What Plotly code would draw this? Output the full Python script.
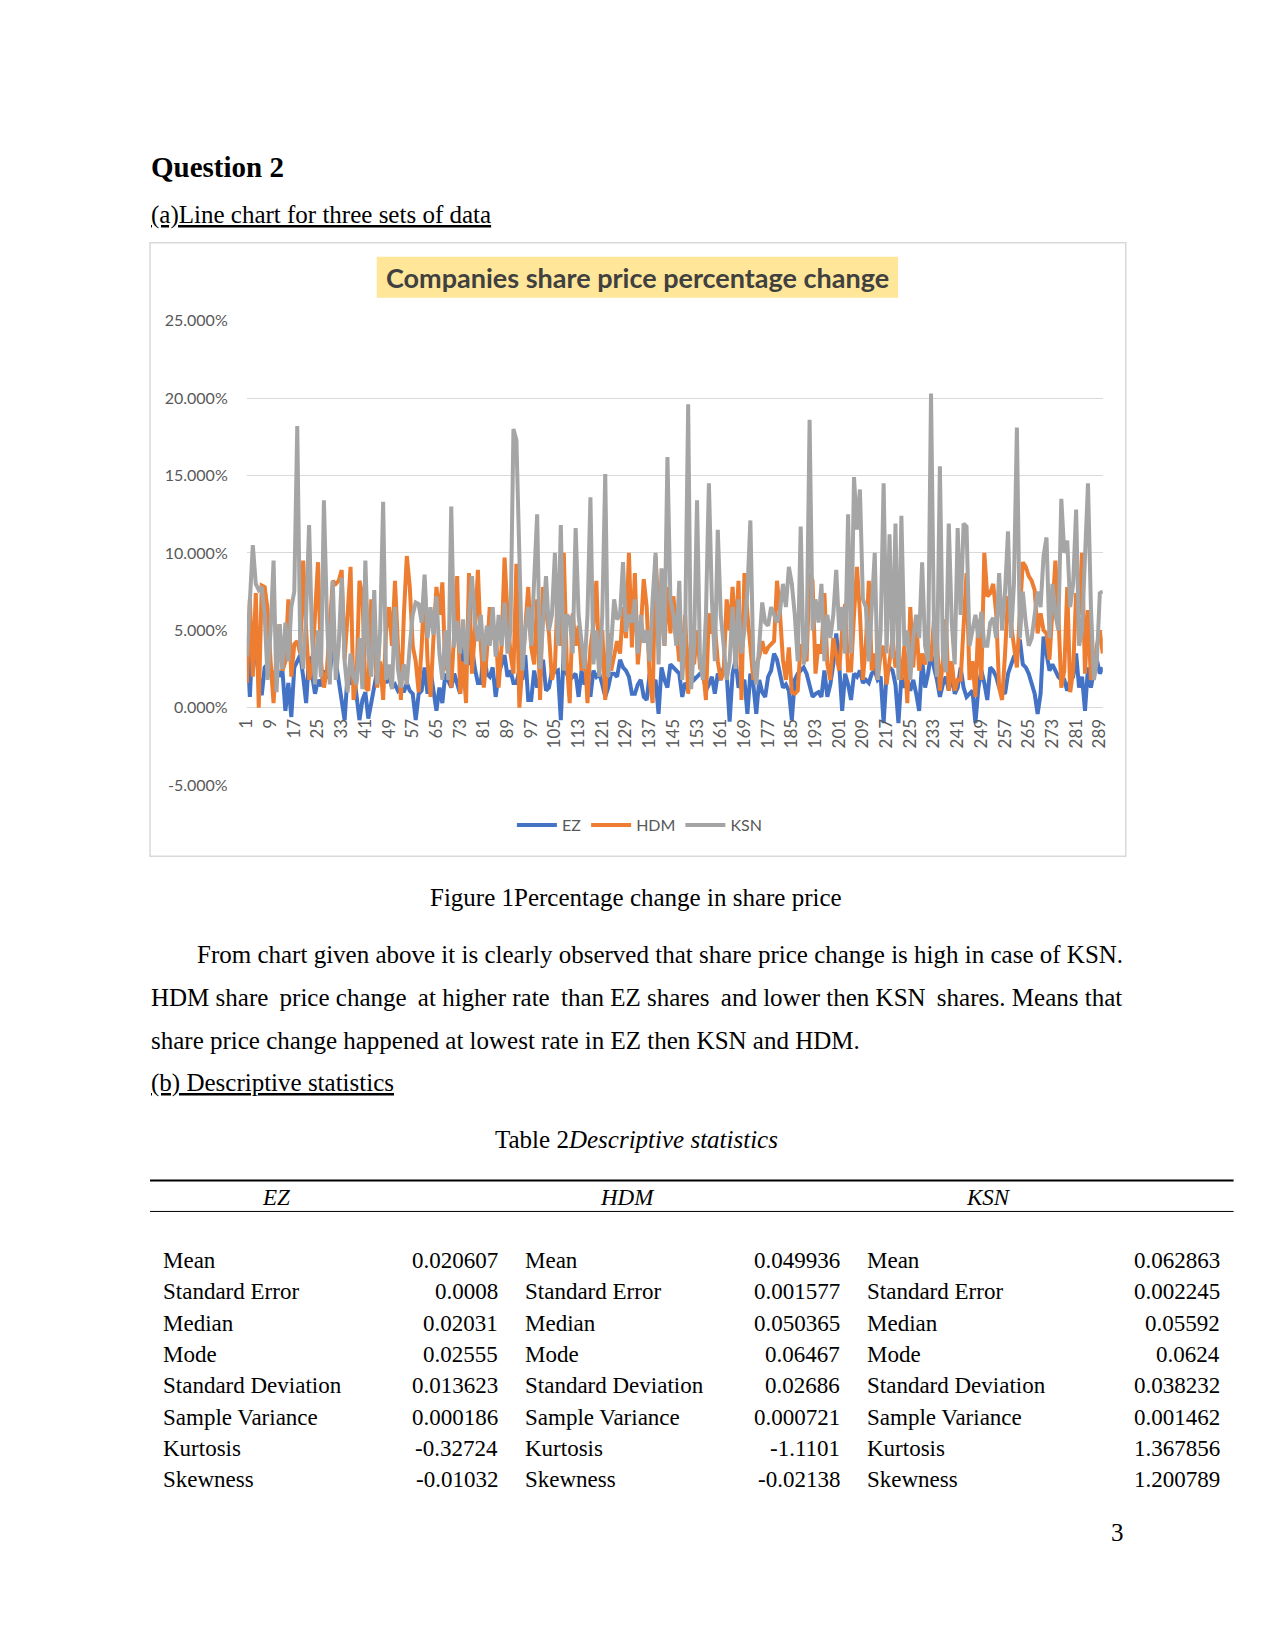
import plotly.graph_objects as go

# Page is 1275x1651; the browser body keeps its default 8px margin,
# so the figure itself is 16px smaller and every page coordinate is shifted.
PAGE_MARGIN = 8
W, H = 1275 - 2 * PAGE_MARGIN, 1651 - 2 * PAGE_MARGIN
# small empirical correction of the page placement (measured on the previous render)
SX_A, SX_B = 10.9, 0.987
SY_A, SY_B = 10.6, 0.9876


def px(x):
    xi = (x - SX_A) / SX_B
    return (xi - PAGE_MARGIN) / W


def py(y):
    yi = (y - SY_A) / SY_B
    return 1 - (yi - PAGE_MARGIN) / H


# ---------------- data (percent change) ----------------
series_names = ["EZ", "HDM", "KSN"]
series_colors = ["#4472C4", "#ED7D31", "#A5A5A5"]

ez = [
    4.6, 0.7, 4.8, 3.5, 2.0, 0.8, 2.6, 2.8, 2.2, 1.8,
    2.6, 2.0, 2.4, -0.2, 1.6, -0.6, 2.6, 3.0, 3.4, 2.0,
    0.3, 3.3, 2.0, 0.9, 1.8, 1.4, 2.4, 2.0, 2.2, 4.0,
    3.0, 1.8, 0.5, -0.8, 2.2, 1.5, 2.4, 1.0, -0.8, 0.5,
    1.0, -0.7, 0.3, 1.5, 2.4, 2.8, 2.2, 1.6, 2.0, 1.3,
    1.5, 1.1, 1.3, 1.0, 1.6, 1.1, 0.9, -0.8, 0.9, 1.1,
    2.6, 0.9, 2.4, 1.2, -0.2, 1.3, 0.3, 2.2, 1.8, 1.3,
    2.2, 1.6, 0.9, 3.9, 3.0, 2.8, 3.9, 2.5, 1.6, 1.6,
    3.9, 2.2, 2.0, 2.6, 0.7, 2.2, 2.8, 3.4, 2.0, 2.4,
    1.6, 1.6, 2.4, 1.8, 3.4, 0.5, 0.5, 2.4, 1.3, 2.0,
    3.1, 1.1, 1.3, 2.4, 2.3, 2.4, -0.8, 3.7, 2.2, 1.8,
    2.0, 2.2, 0.7, 2.4, 1.5, 2.0, 0.7, 2.4, 2.0, 2.2,
    1.5, 0.7, 1.3, 2.2, 2.2, 2.0, 3.1, 2.6, 2.4, 2.0,
    0.9, 0.9, 1.5, 1.8, 0.7, 0.5, 2.2, 1.5, 1.8, -0.4,
    2.6, 1.8, 1.3, 2.8, 2.6, 2.4, 2.2, 0.7, 1.6, 1.3,
    2.2, 1.8, 2.0, 2.2, 2.2, 1.1, 1.5, 2.0, 0.9, 2.2,
    1.8, 2.6, 2.2, -0.9, 2.2, 3.1, 1.3, 1.6, 1.8, -0.4,
    2.2, 1.5, -0.4, 1.8, 1.0, 0.7, 2.0, 2.4, 3.5, 3.1,
    2.2, 1.3, 1.5, 1.1, -0.8, 1.8, 2.2, 2.4, 2.6, 2.2,
    1.3, 0.7, 0.9, 1.0, 0.7, 2.4, 0.7, 1.5, 2.8, 4.8,
    2.8, -0.2, 2.2, 1.5, 0.5, 2.2, 2.0, 2.4, 1.6, 1.8,
    1.6, 2.2, 2.4, 1.8, 2.0, -1.0, 2.2, 2.6, 2.4, 1.5,
    -1.0, 2.0, 1.3, 1.8, 1.1, 1.8, 0.9, -0.2, 3.1, 1.3,
    2.2, 3.5, 2.6, 1.8, 0.7, 1.5, 2.0, 1.1, 2.2, 0.9,
    1.3, 2.6, 1.3, 0.7, 0.9, 1.1, -1.0, 1.3, 2.4, 1.6,
    0.5, 2.6, 2.4, 2.0, 1.3, 1.1, 0.9, 2.2, 2.8, 3.3,
    3.5, 4.4, 2.8, 2.6, 2.2, 1.5, 0.9, -0.4, 0.9, 4.6,
    3.5, 2.4, 2.8, 2.4, 2.0, 1.8, 1.8, 1.1, 1.8, 2.0,
    3.5, 1.3, 2.0, -0.2, 2.6, 1.3, 2.4, 3.1, 2.2, 2.6,
]

hdm = [
    1.6, 7.0, 2.0, 7.4, 0.0, 7.9, 7.8, 6.3, 3.0, 0.3,
    3.5, 5.4, 2.4, 3.0, 7.0, 2.0, 4.1, 4.3, 3.5, 9.5,
    5.0, 1.8, 2.6, 6.0, 9.4, 3.0, 1.3, 2.4, 5.5, 8.2,
    8.0, 8.2, 8.9, 3.1, 6.0, 9.1, 0.5, 1.8, 8.2, 7.3,
    1.3, 1.1, 7.0, 4.0, 1.3, 3.0, 0.5, 5.0, 6.5, 4.0,
    8.2, 4.0, 0.5, 6.0, 9.8, 7.8, 4.0, 3.0, 1.0, 3.9,
    8.2, 3.0, 0.7, 4.5, 7.8, 6.0, 8.1, 2.4, 4.0, 1.3,
    5.0, 8.5, 0.9, 3.0, 0.3, 8.7, 2.2, 5.0, 8.9, 4.0,
    1.3, 3.5, 6.5, 4.4, 5.3, 1.3, 4.0, 9.7, 6.1, 3.5,
    2.2, 9.3, 0.0, 2.8, 5.0, 7.8, 3.9, 2.8, 7.0, 0.5,
    7.8, 6.5, 4.8, 1.8, 2.6, 7.8, 4.0, 10.0, 3.0, 0.3,
    6.1, 4.0, 5.3, 2.4, 4.0, 0.3, 3.9, 5.3, 8.2, 2.4,
    5.0, 0.5, 4.8, 2.4, 3.5, 4.3, 3.5, 6.5, 4.5, 10.0,
    3.9, 8.7, 2.8, 5.0, 8.3, 6.5, 1.8, 0.3, 9.8, 6.0,
    6.1, 4.0, 7.8, 4.8, 7.2, 4.8, 3.0, 3.5, 6.0, 0.9,
    4.5, 2.8, 5.0, 2.6, 2.6, 0.5, 6.1, 4.8, 5.3, 3.0,
    1.8, 2.4, 7.0, 5.0, 7.8, 4.5, 8.2, 0.5, 8.7, 6.1,
    4.0, 1.8, 2.8, 3.3, 4.3, 3.5, 3.9, 4.1, 4.3, 8.2,
    6.1, 3.1, 1.8, 3.9, 1.0, 0.9, 1.1, 4.1, 3.3, 3.0,
    8.7, 8.2, 2.2, 4.1, 3.5, 7.4, 2.8, 1.8, 4.5, 3.4,
    2.4, 5.0, 6.7, 2.4, 2.4, 6.0, 9.1, 6.1, 1.8, 4.1,
    8.2, 2.4, 3.5, 1.8, 3.5, 4.0, 1.5, 3.0, 4.5, 2.6,
    3.5, 1.8, 4.0, 0.3, 6.5, 2.6, 5.7, 2.4, 3.5, 2.8,
    4.1, 3.0, 5.7, 4.3, 1.1, 3.0, 5.7, 1.1, 3.0, 1.1,
    1.8, 1.8, 4.8, 8.7, 1.8, 3.0, 0.7, 5.7, 1.8, 10.0,
    7.2, 7.4, 8.0, 6.1, 1.3, 0.5, 3.5, 7.2, 5.4, 4.0,
    2.6, 6.1, 9.4, 9.1, 8.5, 8.2, 7.6, 4.8, 6.1, 5.0,
    4.8, 3.1, 6.0, 9.5, 6.1, 1.3, 2.4, 7.8, 1.0, 2.4,
    7.4, 6.0, 10.0, 2.2, 6.3, 1.8, 2.4, 4.0, 5.0, 3.5,
]

ksn = [
    3.3, 7.0, 10.5, 8.0, 7.6, 7.8, 6.0, 1.8, 5.0, 9.5,
    1.0, 5.4, 2.5, 5.5, 3.0, 6.5, 7.5, 18.2, 4.0, 2.5,
    6.0, 11.8, 4.5, 1.5, 5.0, 2.0, 13.4, 6.0, 1.5, 8.2,
    1.8, 4.0, 8.4, 3.0, 1.0, 3.5, 2.0, 1.5, 4.5, 1.2,
    9.5, 3.5, 2.0, 7.6, 1.5, 5.0, 13.3, 1.8, 2.8, 1.2,
    6.5, 2.5, 1.3, 2.8, 1.5, 4.0, 6.0, 6.8, 6.7, 5.5,
    8.6, 4.5, 6.5, 4.7, 7.2, 3.5, 1.8, 5.0, 1.8, 13.0,
    3.9, 5.6, 3.5, 5.7, 2.8, 6.0, 8.5, 5.5, 4.3, 6.0,
    3.0, 5.3, 4.0, 6.5, 3.3, 6.0, 4.0, 6.8, 3.5, 5.0,
    18.0, 17.3, 9.0, 2.4, 5.0, 6.5, 4.0, 8.0, 12.5, 2.5,
    5.5, 8.5, 5.0, 6.0, 10.0, 4.0, 11.8, 2.4, 6.0, 5.8,
    3.5, 11.6, 6.0, 4.5, 2.5, 6.0, 13.6, 2.8, 5.0, 2.0,
    6.0, 15.1, 2.0, 4.0, 7.0, 5.7, 6.0, 9.4, 4.9, 6.0,
    5.5, 7.0, 3.5, 6.0, 4.2, 5.0, 3.0, 7.0, 10.0, 2.8,
    9.0, 4.0, 16.2, 7.0, 6.0, 4.0, 8.2, 1.8, 5.0, 19.6,
    1.2, 4.0, 13.4, 3.0, 1.8, 6.0, 14.5, 7.0, 3.0, 11.5,
    6.0, 4.0, 1.8, 3.0, 6.5, 2.5, 7.0, 3.5, 5.0, 7.5,
    12.1, 3.0, 1.5, 4.0, 6.8, 5.5, 5.3, 6.5, 6.0, 5.5,
    6.2, 8.0, 6.5, 9.1, 8.0, 6.0, 3.0, 11.7, 2.8, 4.0,
    18.6, 5.0, 7.0, 5.5, 8.0, 3.0, 6.0, 4.5, 6.0, 8.9,
    5.0, 6.5, 3.5, 12.5, 3.5, 14.9, 11.5, 14.1, 7.0, 6.5,
    3.0, 6.0, 10.0, 1.8, 5.0, 14.5, 3.5, 11.2, 3.2, 11.9,
    1.8, 12.4, 4.0, 5.0, 1.8, 4.5, 6.0, 4.5, 9.4, 4.0,
    3.0, 20.3, 5.0, 2.0, 15.6, 3.5, 2.3, 11.9, 5.5, 2.8,
    11.6, 6.0, 11.9, 11.7, 4.0, 5.0, 6.0, 4.5, 6.2, 4.0,
    4.0, 5.5, 5.8, 4.5, 8.7, 5.0, 7.5, 11.4, 4.5, 8.0,
    18.1, 4.5, 7.5, 5.5, 4.0, 4.5, 6.0, 7.5, 6.5, 9.8,
    11.0, 4.5, 8.0, 6.0, 5.0, 13.5, 10.0, 10.8, 6.5, 8.0,
    12.8, 4.0, 5.0, 10.0, 14.5, 6.5, 1.8, 3.0, 7.4, 7.5,
]

x_tick_values = list(range(1, 290, 8))
y_tick_values = [-5, 0, 5, 10, 15, 20, 25]

stat_names = ["Mean", "Standard Error", "Median", "Mode", "Standard Deviation",
              "Sample Variance", "Kurtosis", "Skewness"]
ez_stats = ["0.020607", "0.0008", "0.02031", "0.02555", "0.013623", "0.000186", "-0.32724", "-0.01032"]
hdm_stats = ["0.049936", "0.001577", "0.050365", "0.06467", "0.02686", "0.000721", "-1.1101", "-0.02138"]
ksn_stats = ["0.062863", "0.002245", "0.05592", "0.0624", "0.038232", "0.001462", "1.367856", "1.200789"]

T = "\u2009"  # thin space, used to imitate the justified line
paragraph_lines = [
    "From chart given above it is clearly observed that share price change is high in case of KSN.",
    f"HDM share {T}price change {T}at higher rate {T}than EZ shares {T}and lower then KSN {T}shares. Means that",
    "share price change happened at lowest rate in EZ then KSN and HDM.",
]

# ---------------- figure ----------------
fig = go.Figure()
for name, color, vals in zip(series_names, series_colors, [ez, hdm, ksn]):
    fig.add_trace(go.Scatter(
        x=list(range(1, len(vals) + 1)), y=vals, mode="lines", name=name,
        line=dict(color=color, width=4), hoverinfo="skip",
    ))

CHART_FONT = "Lato, 'Open Sans', sans-serif"
SERIF = "'Liberation Serif', 'DejaVu Serif', serif"

fig.update_layout(
    width=W, height=H,
    margin=dict(l=0, r=0, t=0, b=0),
    paper_bgcolor="white", plot_bgcolor="rgba(0,0,0,0)",
    showlegend=True,
    legend=dict(orientation="h", x=px(640), xanchor="center", y=py(825), yanchor="middle",
                font=dict(family=CHART_FONT, size=16, color="#595959"),
                itemwidth=40, tracegroupgap=0, bgcolor="rgba(0,0,0,0)"),
    xaxis=dict(
        domain=[px(247), px(1104)], range=[1, 290],
        anchor="free", position=py(708),
        tickmode="array", tickvals=x_tick_values, ticktext=[str(v) for v in x_tick_values],
        tickangle=-90, showgrid=False, zeroline=False, showline=False,
        ticks="outside", ticklen=3, tickcolor="rgba(0,0,0,0)",
        tickfont=dict(family=CHART_FONT, size=17, color="#595959"),
    ),
    yaxis=dict(
        domain=[py(785), py(321)], range=[-5, 25],
        tickmode="array", tickvals=y_tick_values,
        ticktext=[f"{v:.3f}%" for v in y_tick_values],
        showgrid=True, gridcolor="#D9D9D9", gridwidth=1.3, zeroline=False, showline=False,
        ticks="outside", ticklen=15, tickcolor="rgba(0,0,0,0)",
        tickfont=dict(family=CHART_FONT, size=16, color="#595959"),
    ),
)

shapes = [
    # chart frame
    dict(type="rect", xref="paper", yref="paper", x0=px(150), x1=px(1127), y0=py(856), y1=py(243),
         line=dict(color="#D9D9D9", width=1.5), fillcolor="rgba(0,0,0,0)", layer="below"),
    # title highlight
    dict(type="rect", xref="paper", yref="paper", x0=px(377), x1=px(899), y0=py(298), y1=py(257),
         line=dict(width=0), fillcolor="#FFE699", layer="below"),
    # table rules
    dict(type="line", xref="paper", yref="paper", x0=px(150), x1=px(1235), y0=py(1180), y1=py(1180),
         line=dict(color="black", width=2)),
    dict(type="line", xref="paper", yref="paper", x0=px(150), x1=px(1235), y0=py(1211), y1=py(1211),
         line=dict(color="black", width=1)),
]
fig.update_layout(shapes=shapes)

ann = []


def text(x, y, s, size=25, xanchor="left", family=SERIF, color="black"):
    ann.append(dict(xref="paper", yref="paper", x=px(x), y=py(y), text=s, showarrow=False,
                    xanchor=xanchor, yanchor="middle",
                    font=dict(family=family, size=size, color=color)))


# chart title
text(638, 278, "<b>Companies share price percentage change</b>", size=27, xanchor="center",
     family=CHART_FONT, color="#404040")

# page text
text(149, 167, "<b>Question 2</b>", size=29)
text(149, 215, "<u>(a)Line chart for three sets of data</u>")
text(637, 897, "Figure 1Percentage change in share price", xanchor="center")
text(195, 954, paragraph_lines[0])
text(149, 997, paragraph_lines[1])
text(149, 1040, paragraph_lines[2])
text(149, 1083, "<u>(b) Descriptive statistics</u>")
text(637, 1139, "Table 2<i>Descriptive statistics</i>", xanchor="center")

# table header
text(276, 1197, "<i>EZ</i>", size=23, xanchor="center")
text(628, 1197, "<i>HDM</i>", size=23, xanchor="center")
text(990, 1197, "<i>KSN</i>", size=23, xanchor="center")

for i, name in enumerate(stat_names):
    yy = 1260 + i * 31.3
    text(161, yy, name, size=23)
    text(500, yy, ez_stats[i], size=23, xanchor="right")
    text(523, yy, name, size=23)
    text(843, yy, hdm_stats[i], size=23, xanchor="right")
    text(866, yy, name, size=23)
    text(1223, yy, ksn_stats[i], size=23, xanchor="right")

text(1119, 1532, "3", xanchor="center")

fig.update_layout(annotations=ann)

fig.write_html("out.html", config={"displayModeBar": False})
